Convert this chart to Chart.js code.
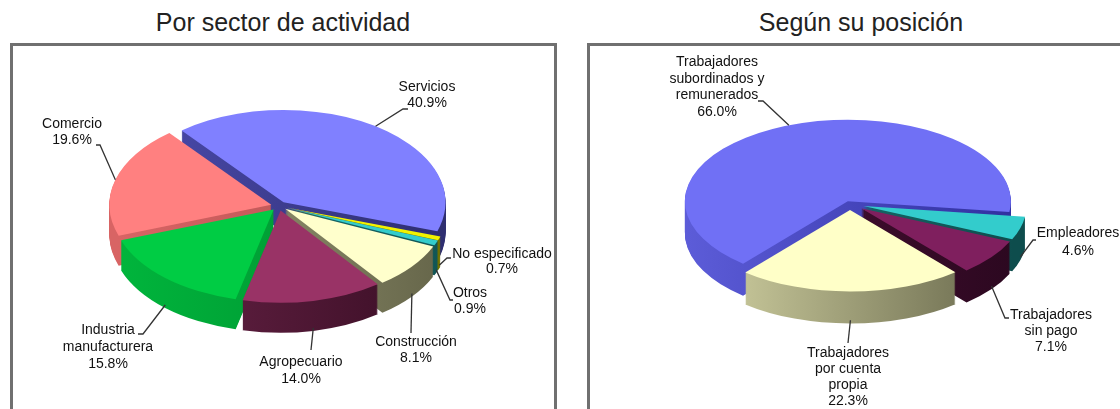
<!DOCTYPE html>
<html>
<head>
<meta charset="utf-8">
<script src="https://cdn.jsdelivr.net/npm/chart.js@4"></script>
<style>
  html, body { margin: 0; padding: 0; background: #fff; }
  body { width: 1120px; height: 409px; position: relative; overflow: hidden; font-family: "Liberation Sans", Arial, sans-serif; }
  .title { position: absolute; top: 8px; font-size: 25px; color: #222; white-space: nowrap; transform: translateX(-50%); }
  .panel { position: absolute; top: 43px; height: 420px; border: 3px solid #707070; background: #fff; }
  .holder { position: absolute; top: 0; width: 560px; height: 409px; }
</style>
</head>
<body>
<div class="title" style="left:283px">Por sector de actividad</div>
<div class="title" style="left:861px">Según su posición</div>
<div class="panel" style="left:10px;width:541px"></div>
<div class="panel" style="left:587px;width:560px"></div>
<div class="holder" style="left:0"><canvas id="sector"></canvas></div>
<div class="holder" style="left:560px"><canvas id="posicion"></canvas></div>

<script>
// data
const sectorLabels = ["Servicios", "No especificado", "Otros", "Construcción", "Agropecuario", ["Industria", "manufacturera"], "Comercio"];
const sectorValues = [40.9, 0.7, 0.9, 8.1, 14.0, 15.8, 19.6];

const posicionLabels = [["Trabajadores", "subordinados y", "remunerados"], "Empleadores", ["Trabajadores", "sin pago"], ["Trabajadores", "por cuenta", "propia"]];
const posicionValues = [66.0, 4.6, 7.1, 22.3];

// colours: top face, side wall (light -> dark)
const sectorColors = ["#8080FF", "#F2F200", "#33CCCC", "#FFFFCC", "#993366", "#00CC44", "#FF8080"];
const sectorSides = [["#4C4CB0", "#2E2E70"], ["#A0A000", "#707000"], ["#1E8080", "#115555"], ["#A4A47E", "#66664A"], ["#6A2448", "#3A0E25"], ["#00B53C", "#008A2E"], ["#D86464", "#B04F4F"]];
const posicionColors = ["#7070F5", "#33CCCC", "#7F1F5E", "#FFFFC8"];
const posicionSides = [["#5C5CD8", "#3030A0"], ["#1A8080", "#0E4D4D"], ["#4E1038", "#2C0820"], ["#D5D5A5", "#66664A"]];

// label placement (canvas px)
const sectorLayout = [
  { x: 427, y: 87, lh: 16, pts: [[403, 109], [408, 109]] },
  { x: 502, y: 254, lh: 15, pts: [[447, 258], [451, 258]] },
  { x: 470, y: 293, lh: 16, pts: [[450, 300], [453, 300]] },
  { x: 416, y: 342, lh: 16, pts: [[411, 333]] },
  { x: 301, y: 362, lh: 17, pts: [[311, 350]] },
  { x: 108, y: 330, lh: 17, pts: [[143, 334], [138, 334]] },
  { x: 72, y: 124, lh: 16, pts: [[100, 145], [96, 145]] }
];
const posicionLayout = [
  { x: 157, y: 62, lh: 16.7, pts: [[203, 101], [198, 101]] },
  { x: 518, y: 233, lh: 18, pts: [[473, 240], [476, 240]] },
  { x: 491, y: 315, lh: 16, pts: [[445, 318], [449, 318]] },
  { x: 288, y: 353, lh: 16, pts: [[288, 343]] }
];

const pie3d = {
  id: "pie3d",
  beforeDatasetsDraw(chart, args, o) {
    const ctx = chart.ctx;
    const arcs = chart.getDatasetMeta(0).data;
    const cx = arcs[0].x, cy = arcs[0].y, R = arcs[0].outerRadius;

    const path = (a, dy) => {
      const m = (a.startAngle + a.endAngle) / 2;
      const off = a.options.offset || 0;
      const ox = Math.cos(m) * off, oy = Math.sin(m) * off;
      ctx.save();
      ctx.translate(cx, cy + dy);
      ctx.scale(1, o.tilt);
      ctx.beginPath();
      ctx.moveTo(ox, oy);
      ctx.arc(ox, oy, R, a.startAngle, a.endAngle);
      ctx.closePath();
      ctx.restore();
    };

    const grads = o.sides.map(([c1, c2]) => {
      const g = ctx.createLinearGradient(cx - R, 0, cx + R, 0);
      g.addColorStop(0, c1);
      g.addColorStop(1, c2);
      return g;
    });

    ctx.save();
    for (let d = o.depth; d >= 1; d--) {
      arcs.forEach((a, i) => {
        path(a, d);
        ctx.fillStyle = grads[i];
        ctx.fill();
      });
    }
    arcs.forEach((a) => {
      path(a, 0);
      ctx.fillStyle = a.options.backgroundColor;
      ctx.fill();
    });
    ctx.restore();
    return false;
  },
  afterDraw(chart, args, o) {
    const ctx = chart.ctx;
    const arcs = chart.getDatasetMeta(0).data;
    const labels = chart.data.labels;
    const values = chart.data.datasets[0].data;
    ctx.save();
    ctx.font = '14px "Liberation Sans", Arial, sans-serif';
    ctx.textAlign = "center";
    ctx.textBaseline = "middle";
    arcs.forEach((a, i) => {
      const L = o.layout[i];
      const m = (a.startAngle + a.endAngle) / 2;
      const r = a.outerRadius + (a.options.offset || 0);
      const sx = a.x + Math.cos(m) * r;
      let sy = a.y + Math.sin(m) * r * o.tilt;
      if (Math.sin(m) > 0) sy += o.depth * 0.9;

      ctx.strokeStyle = "#333";
      ctx.lineWidth = 1.3;
      ctx.beginPath();
      ctx.moveTo(sx, sy);
      L.pts.forEach(([px, py]) => ctx.lineTo(px, py));
      ctx.stroke();

      const lines = [].concat(labels[i], values[i].toFixed(1) + "%");
      ctx.fillStyle = "#111";
      lines.forEach((t, j) => ctx.fillText(t, L.x, L.y + j * L.lh));
    });
    ctx.restore();
  }
};

function makePie(id, labels, values, colors, cfg) {
  return new Chart(document.getElementById(id), {
    type: "pie",
    data: {
      labels: labels,
      datasets: [{
        data: values,
        backgroundColor: colors,
        borderWidth: 0,
        offset: cfg.offsets,
        radius: cfg.radius,
        rotation: cfg.rotation
      }]
    },
    options: {
      responsive: true,
      maintainAspectRatio: false,
      animation: false,
      radius: cfg.radius,
      rotation: cfg.rotation,
      layout: { padding: cfg.padding },
      plugins: {
        legend: { display: false },
        tooltip: { enabled: false },
        pie3d: { tilt: cfg.tilt, depth: cfg.depth, sides: cfg.sides, layout: cfg.layout }
      }
    },
    plugins: [pie3d]
  });
}

makePie("sector", sectorLabels, sectorValues, sectorColors, {
  offsets: [8, 8, 8, 8, 8, 8, 8],
  radius: 162,
  rotation: -39,
  padding: { left: 0, right: 2, top: 3, bottom: 0 },
  tilt: 0.57,
  depth: 30,
  sides: sectorSides,
  layout: sectorLayout
});

makePie("posicion", posicionLabels, posicionValues, posicionColors, {
  offsets: [6, 14, 14, 12],
  radius: 163,
  rotation: 220,
  padding: { left: 20, right: 0, top: 0, bottom: 1 },
  tilt: 0.5,
  depth: 32,
  sides: posicionSides,
  layout: posicionLayout
});
</script>
</body>
</html>
